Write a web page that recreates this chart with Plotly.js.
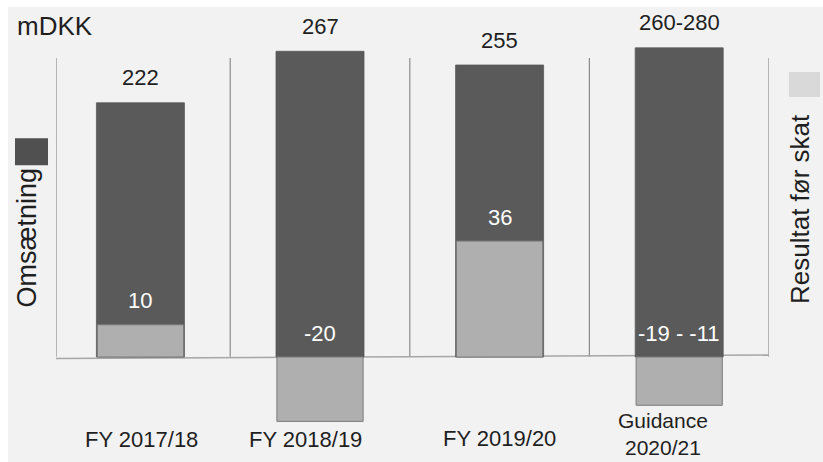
<!DOCTYPE html>
<html>
<head>
<meta charset="utf-8">
<script src="https://cdn.plot.ly/plotly-3.0.1.min.js"></script>
<style>
  html, body { margin: 0; padding: 0; background: #ffffff; }
  #chart { position: absolute; left: 8px; top: 7px; width: 815px; height: 455px; }
</style>
</head>
<body>
<div id="chart"></div>
<script>
// ---- data ----
const categories   = ['FY 2017/18', 'FY 2018/19', 'FY 2019/20', 'Guidance 2020/21'];
const tickLabels   = ['FY 2017/18', 'FY 2018/19', 'FY 2019/20', 'Guidance<br>2020/21'];
const revenue      = [222, 267, 255, 270];
const revenueText  = ['222', '267', '255', '260-280'];
const profit       = [10, -20, 36, -15];
const profitText   = ['10', '-20', '36', '-19 - -11'];
const unitLabel    = 'mDKK';
const revenueName  = 'Omsætning';
const profitName   = 'Resultat før skat';

// ---- styling ----
const FONT = '"Liberation Sans", Arial, sans-serif';
const DARK = '#5a5a5a';
const LIGHT = '#afafaf';
const TEXT = '#1f1f1f';
const X_MIN = -0.47, X_MAX = 3.5;

const traces = [
  {
    type: 'bar', name: revenueName, x: categories, y: revenue,
    width: 0.49, marker: { color: DARK, line: { color: '#595959', width: 0.8 } },
    hoverinfo: 'skip', yaxis: 'y'
  },
  {
    type: 'bar', name: profitName, x: categories, y: profit,
    width: 0.48, marker: { color: LIGHT, line: { color: '#7a7a7a', width: 1 } },
    hoverinfo: 'skip', yaxis: 'y2'
  }
];

const annotations = [];
// unit label
annotations.push({ text: unitLabel, xref: 'paper', yref: 'paper', x: -0.057, y: 1.036,
  xanchor: 'left', yanchor: 'middle', showarrow: false, font: { family: FONT, size: 26, color: TEXT } });
// revenue labels above the dark bars
categories.forEach((c, i) => {
  annotations.push({ text: revenueText[i], xref: 'x', yref: 'y', x: c, y: revenue[i],
    yshift: 25, xanchor: 'center', yanchor: 'middle', showarrow: false,
    font: { family: FONT, size: 22, color: TEXT } });
});
// profit labels (white, inside the dark bars)
categories.forEach((c, i) => {
  annotations.push({ text: profitText[i], xref: 'x', yref: 'y2', x: c, y: Math.max(profit[i], 0),
    yshift: 24, xanchor: 'center', yanchor: 'middle', showarrow: false,
    font: { family: FONT, size: 22, color: '#ffffff' } });
});
// category labels
const labelShift = [1, -15, 0, -16];
const labelY = [-0.038, -0.038, -0.036, -0.024];
const labelSize = [22, 22, 22, 21];
categories.forEach((c, i) => {
  annotations.push({ text: tickLabels[i], xref: 'x', yref: 'paper', x: c, y: labelY[i],
    xshift: labelShift[i], xanchor: 'center', yanchor: 'middle', showarrow: false,
    font: { family: FONT, size: labelSize[i], color: TEXT } });
});
// series titles (rotated)
annotations.push({ text: revenueName, xref: 'paper', yref: 'paper', x: -0.04, y: 0.488,
  textangle: -90, xanchor: 'center', yanchor: 'middle', showarrow: false,
  font: { family: FONT, size: 27, color: TEXT } });
annotations.push({ text: profitName, xref: 'paper', yref: 'paper', x: 1.0435, y: 0.561,
  textangle: -90, xanchor: 'center', yanchor: 'middle', showarrow: false,
  font: { family: FONT, size: 26, color: TEXT } });

const shapes = [];
// category separators
[X_MIN, 0.5, 1.5, 2.5, X_MAX].forEach(xv => {
  shapes.push({ type: 'line', xref: 'x', yref: 'paper', x0: xv, x1: xv, y0: 0.177, y1: 0.953,
    layer: 'below', line: { color: '#8c8c8c', width: 1.2 } });
});
// baseline
shapes.push({ type: 'line', xref: 'x', yref: 'paper', x0: X_MIN, x1: X_MAX, y0: 0.1727, y1: 0.1818,
  layer: 'below', line: { color: '#a6a6a6', width: 1.5 } });
// legend swatches
shapes.push({ type: 'rect', xref: 'paper', yref: 'paper', x0: -0.0575, x1: -0.0112, y0: 0.675, y1: 0.745,
  line: { width: 0 }, fillcolor: '#505050' });
shapes.push({ type: 'rect', xref: 'paper', yref: 'paper', x0: 1.028, x1: 1.0715, y0: 0.852, y1: 0.917,
  line: { width: 0 }, fillcolor: '#d9d9d9' });

const hiddenAxis = { showgrid: false, zeroline: false, showticklabels: false, showline: false, ticks: '' };

const layout = {
  width: 815, height: 455,
  margin: { l: 48, r: 54, t: 33, b: 37 },
  paper_bgcolor: '#f2f2f2', plot_bgcolor: 'rgba(0,0,0,0)',
  barmode: 'overlay', showlegend: false,
  font: { family: FONT, color: TEXT },
  xaxis: Object.assign({ type: 'category', range: [X_MIN, X_MAX] }, hiddenAxis),
  yaxis: Object.assign({ range: [-59.39, 276.86] }, hiddenAxis),
  yaxis2: Object.assign({ range: [-21.12, 98.45], overlaying: 'y', side: 'right' }, hiddenAxis),
  annotations: annotations,
  shapes: shapes
};

Plotly.newPlot('chart', traces, layout, { displayModeBar: false, staticPlot: true, responsive: false });
</script>
</body>
</html>
